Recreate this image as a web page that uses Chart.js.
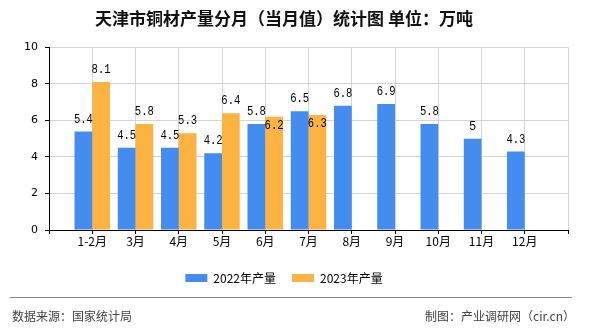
<!DOCTYPE html>
<html>
<head>
<meta charset="utf-8">
<script src="https://cdn.jsdelivr.net/npm/chart.js@4.4.0/dist/chart.umd.min.js"></script>
<style>
  html, body { margin: 0; padding: 0; background: #fff; }
  #wrap { position: relative; width: 590px; height: 330px; }
  #foot-line { position: absolute; left: 10px; top: 297px; width: 562px; height: 0; border-top: 1.5px solid #888; }
  .foot { position: absolute; top: 307px; font: 12px "Noto Sans CJK SC", sans-serif; color: #444; }
</style>
</head>
<body>
<div id="wrap">
  <canvas id="chart" width="590" height="330"></canvas>
  <div id="foot-line"></div>
  <div class="foot" style="left:12px">数据来源：国家统计局</div>
  <div class="foot" style="right:15px">制图：产业调研网（cir.cn）</div>
</div>
<script>
const categories = ["1-2月", "3月", "4月", "5月", "6月", "7月", "8月", "9月", "10月", "11月", "12月"];
const output2022 = [5.4, 4.5, 4.5, 4.2, 5.8, 6.5, 6.8, 6.9, 5.8, 5, 4.3];
const output2023 = [8.1, 5.8, 5.3, 6.4, 6.2, 6.3];
const yTicks = [0, 2, 4, 6, 8, 10];

// 两端留空的类目，使网格线落在类目中心
const labels = ["", ...categories, ""];
const pad = (arr) => [null, ...categories.map((c, i) => (arr[i] === undefined ? null : arr[i])), null];

const valueLabels = {
  id: "valueLabels",
  afterDatasetsDraw(chart) {
    const ctx = chart.ctx;
    const blue = chart.getDatasetMeta(0).data;
    const orange = chart.getDatasetMeta(1).data;
    ctx.save();
    ctx.font = "12px 'Liberation Mono', monospace";
    ctx.fillStyle = "#000";
    ctx.textAlign = "center";
    ctx.textBaseline = "middle";
    chart.data.datasets.forEach((ds, di) => {
      const els = di === 0 ? blue : orange;
      ds.data.forEach((v, i) => {
        if (v === null) return;
        const el = els[i];
        let y = el.y - 12;
        if (di === 1 && chart.data.datasets[0].data[i] !== null) {
          const by = blue[i].y - 12;
          if (Math.abs(by - y) < 12) y = el.y + 9;
        }
        ctx.fillText(String(v), el.x, y, 19);
      });
    });
    ctx.restore();
  }
};

new Chart(document.getElementById("chart"), {
  type: "bar",
  data: {
    labels: labels,
    datasets: [
      { label: "2022年产量", data: pad(output2022), backgroundColor: "#448cee" },
      { label: "2023年产量", data: pad(output2023), backgroundColor: "#fdb342" }
    ]
  },
  options: {
    responsive: false,
    animation: false,
    layout: { padding: { left: 0, right: 22, top: 0, bottom: 36 } },
    datasets: { bar: { categoryPercentage: 0.82, barPercentage: 1 } },
    plugins: {
      title: {
        display: true,
        text: "天津市铜材产量分月（当月值）统计图 单位：万吨",
        color: "#111",
        font: { family: "'Noto Sans CJK SC', sans-serif", size: 17, weight: "bold" },
        padding: { top: 8, bottom: 19 }
      },
      legend: {
        position: "bottom",
        labels: {
          boxWidth: 22,
          boxHeight: 8,
          padding: 16,
          color: "#000",
          font: { family: "'Noto Sans CJK SC', sans-serif", size: 12 }
        }
      },
      tooltip: { enabled: false }
    },
    scales: {
      x: {
        offset: false,
        grid: { offset: false, color: "#d4d4d4", tickColor: "#000", tickLength: 4 },
        border: { color: "#000" },
        ticks: { autoSkip: false, maxRotation: 0, color: "#000", padding: 0,
                 font: { family: "'Noto Sans CJK SC', sans-serif", size: 12 } },
        afterFit: (s) => { s.height = 26; }
      },
      y: {
        min: 0,
        max: 10,
        afterBuildTicks: (s) => { s.ticks = yTicks.map((v) => ({ value: v })); },
        grid: { color: "#d4d4d4", tickColor: "#000", tickLength: 4 },
        border: { color: "#000" },
        ticks: { color: "#000", padding: 7,
                 font: { family: "'DejaVu Sans', sans-serif", size: 11 } },
        afterFit: (s) => { s.width = 49; }
      }
    }
  },
  plugins: [valueLabels]
});
</script>
</body>
</html>
